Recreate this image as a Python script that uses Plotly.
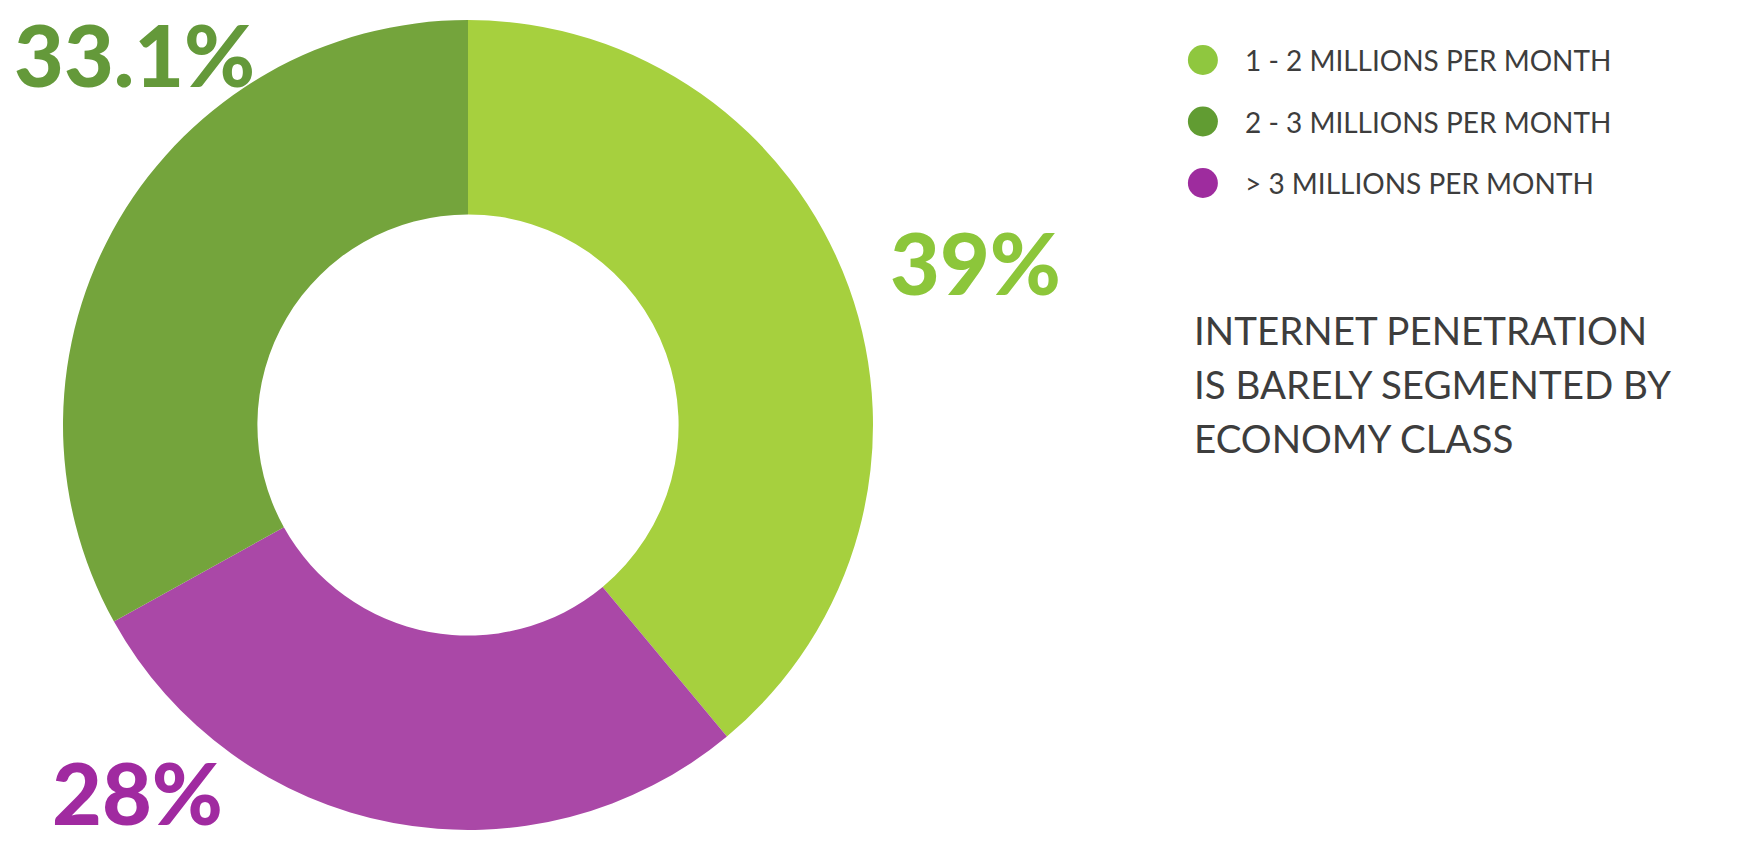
import plotly.graph_objects as go

# Income segments and their share of internet users (%)
segments = ["1 - 2 MILLIONS PER MONTH", "2 - 3 MILLIONS PER MONTH", "> 3 MILLIONS PER MONTH"]
shares = [39, 33.1, 28]

# Slice order around the ring, clockwise from 12 o'clock
ring_order = [0, 2, 1]

slice_colors = ["#a6d03e", "#74a43c", "#aa48a7"]
dot_colors = ["#8fc73f", "#619c32", "#9e2c9e"]
label_colors = ["#8cc63a", "#64993a", "#a02aa0"]

headline = ["INTERNET PENETRATION", "IS BARELY SEGMENTED BY", "ECONOMY CLASS"]

W, H = 1742, 845

fig = go.Figure()

fig.add_trace(go.Pie(
    labels=[segments[i] for i in ring_order],
    values=[shares[i] for i in ring_order],
    marker=dict(colors=[slice_colors[i] for i in ring_order], line=dict(width=0)),
    hole=0.52,
    sort=False,
    direction="clockwise",
    rotation=0,
    textinfo="none",
    hoverinfo="label+value",
    showlegend=False,
    domain=dict(x=[63 / W, 873 / W], y=[(H - 830) / H, (H - 20) / H]),
))

# Legend: round markers on a hidden axis, one row per segment
rows = list(range(len(segments)))
fig.add_trace(go.Scatter(
    x=[0] * len(segments),
    y=rows,
    mode="markers",
    marker=dict(size=30, color=dot_colors, line=dict(width=0)),
    hoverinfo="skip",
    showlegend=False,
    xaxis="x", yaxis="y",
))

annotations = []
for i, name in enumerate(segments):
    annotations.append(dict(
        x=0, y=i, xref="x", yref="y",
        text=name, showarrow=False,
        xanchor="left", yanchor="middle", xshift=40,
        font=dict(family="Lato", size=28, color="#3d3d3d"),
    ))

# Percentage call-outs
label_pos = [
    dict(x=888 / W, y=1 - 262 / H, anchor="middle"),   # 39%
    dict(x=12 / W, y=1.0, anchor="top"),               # 33.1%
    dict(x=50 / W, y=0.0, anchor="bottom"),            # 28%
]
for i, v in enumerate(shares):
    annotations.append(dict(
        x=label_pos[i]["x"], y=label_pos[i]["y"], xref="paper", yref="paper",
        text=f"{v}%", showarrow=False,
        xanchor="left", yanchor=label_pos[i]["anchor"],
        font=dict(family="Lato", size=86, color=label_colors[i], weight=900),
    ))

# Headline, one annotation per line for a looser line pitch
first_line_px, line_pitch_px = 330, 54
for i, line in enumerate(headline):
    annotations.append(dict(
        x=1192 / W, y=1 - (first_line_px + i * line_pitch_px) / H,
        xref="paper", yref="paper",
        text=line, showarrow=False, align="left",
        xanchor="left", yanchor="middle",
        font=dict(family="Lato", size=38.5, color="#3d3d3d"),
    ))

row_px = 61.5
top_row_px = 60
fig.update_layout(
    width=W, height=H,
    margin=dict(l=0, r=0, t=0, b=0),
    paper_bgcolor="white", plot_bgcolor="white",
    xaxis=dict(domain=[0.68, 1.0], range=[-0.034, 1.0], visible=False, fixedrange=True),
    yaxis=dict(domain=[0, 1], range=[(H - top_row_px) / row_px, -top_row_px / row_px],
               visible=False, fixedrange=True),
    annotations=annotations,
    showlegend=False,
)

fig.write_html("out.html")
